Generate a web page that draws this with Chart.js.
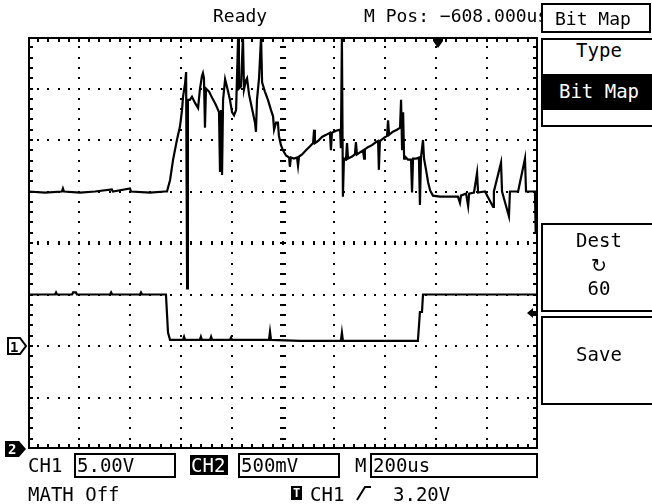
<!DOCTYPE html>
<html>
<head>
<meta charset="utf-8">
<script src="https://cdn.jsdelivr.net/npm/chart.js@4.4.1/dist/chart.umd.min.js"></script>
<style>
  html, body { margin: 0; padding: 0; background: #fff; }
  #screen { position: relative; width: 652px; height: 504px; overflow: hidden; background: #fff; }
  #screen canvas { position: absolute; left: 0; top: 0; }
  .t { position: absolute; font-family: "DejaVu Sans Mono", monospace; font-size: 18px; line-height: 1; white-space: pre; color: #000; }
  .b { font-size: 19px; }
  .c { text-align: center; left: 543px; width: 112px; }
  .box { position: absolute; border: 2px solid #000; box-sizing: border-box; background: #fff; }
  .inv { position: absolute; background: #000; }
  .w { color: #fff; }
</style>
</head>
<body>
<div id="screen">
  <canvas id="scope" width="652" height="504"></canvas>

  <!-- status line -->
  <div class="t" style="left:213px;top:7px">Ready</div>
  <div class="t" style="left:364px;top:7px">M Pos: −608.000us</div>
  <div class="box" style="left:541px;top:3px;width:110px;height:30px"></div>
  <div class="t" style="left:555px;top:10px">Bit Map</div>

  <!-- menu -->
  <div class="box" style="left:541px;top:38px;width:120px;height:89px"></div>
  <div class="t b c" style="top:41px">Type</div>
  <div class="inv" style="left:541px;top:74px;width:120px;height:36px"></div>
  <div class="t b c w" style="top:82px">Bit Map</div>

  <div class="box" style="left:541px;top:223px;width:120px;height:89px"></div>
  <div class="t b c" style="top:231px">Dest</div>
  <div class="t c" style="top:256px;font-family:'DejaVu Sans',sans-serif;font-size:19px">↻</div>
  <div class="t b c" style="top:279px">60</div>

  <div class="box" style="left:541px;top:316px;width:120px;height:89px"></div>
  <div class="t b c" style="top:345px">Save</div>

  <!-- channel markers -->
  <div class="t" style="left:10px;top:340px;font-size:14px;font-weight:bold">1</div>
  <div class="t w" style="left:8px;top:442px;font-size:14px;font-weight:bold">2</div>

  <!-- bottom status -->
  <div class="t b" style="left:28px;top:456px">CH1</div>
  <div class="box" style="left:74px;top:453px;width:102px;height:25px"></div>
  <div class="t b" style="left:77px;top:456px">5.00V</div>
  <div class="inv" style="left:190px;top:455px;width:38px;height:20px"></div>
  <div class="t b w" style="left:191px;top:456px">CH2</div>
  <div class="box" style="left:238px;top:453px;width:102px;height:25px"></div>
  <div class="t b" style="left:241px;top:456px">500mV</div>
  <div class="t b" style="left:355px;top:456px">M</div>
  <div class="box" style="left:370px;top:453px;width:168px;height:25px"></div>
  <div class="t b" style="left:373px;top:456px">200us</div>

  <div class="t b" style="left:28px;top:485px">MATH Off</div>
  <div class="inv" style="left:291px;top:486px;width:11px;height:14px"></div>
  <div class="t w" style="left:293px;top:487px;font-size:12px;font-weight:bold">T</div>
  <div class="t b" style="left:310px;top:485px">CH1</div>
  <svg style="position:absolute;left:354px;top:484px" width="20" height="20">
    <polyline points="3,16 11,3 17,3" fill="none" stroke="#000" stroke-width="2"/>
  </svg>
  <div class="t b" style="left:393px;top:485px">3.20V</div>
</div>

<script>
// horizontal: 200us/div, M Pos -608us, 10 div
const timeMin = -1608;
const timeMax = 392;
// CH1 5.00V/div, CH2 500mV/div, 8 div each
const ch1Range = [-10, 30];
const ch2Range = [0, 4];
const triggerTime = 0;
const triggerLevel = 3.2;

// CH1 trace [time us, volts]
const ch1Trace = [
  [-1608, 15.0], [-1541, 14.9], [-1475, 15.0], [-1471, 15.3], [-1467, 15.0], [-1404, 14.9], [-1345, 15.0],
  [-1279, 15.2], [-1275, 15.0], [-1208, 15.3], [-1204, 15.0], [-1130, 14.9], [-1071, 15.0],
  [-1063, 15.0], [-1051, 16.1], [-1039, 18.1], [-1024, 20.0], [-1012, 21.3], [-1004, 22.9], [-1000, 24.2],
  [-992, 25.5], [-988, 26.6], [-984, 5.6], [-981, 23.9], [-973, 23.9], [-965, 24.2], [-953, 23.6],
  [-941, 23.1], [-934, 24.9], [-926, 26.2], [-922, 26.5], [-918, 26.0], [-914, 21.2], [-910, 25.0],
  [-898, 24.7], [-886, 24.1], [-871, 23.4], [-859, 22.7], [-855, 16.9], [-851, 22.9], [-847, 16.6],
  [-843, 23.9], [-835, 25.9], [-828, 25.2], [-816, 23.9], [-808, 22.7], [-800, 22.4], [-792, 22.9],
  [-784, 30], [-781, 25.0], [-773, 25.2], [-765, 30], [-761, 24.9], [-753, 25.8], [-749, 26.0],
  [-741, 24.4], [-730, 23.1], [-718, 21.7], [-714, 20.8], [-710, 23.9], [-702, 26.0], [-694, 30],
  [-690, 25.6], [-679, 24.7], [-667, 23.9], [-655, 22.9], [-647, 22.3], [-643, 21.0], [-635, 21.7],
  [-628, 21.7], [-624, 20.4], [-616, 19.5], [-608, 19.0], [-596, 18.5], [-584, 18.3], [-581, 17.4],
  [-577, 18.3], [-565, 18.2], [-553, 18.3], [-549, 17.5], [-545, 18.4], [-533, 18.6], [-518, 19.0],
  [-502, 19.4], [-490, 19.7], [-486, 21.0], [-483, 19.7], [-471, 19.9], [-455, 20.3], [-439, 20.5],
  [-424, 20.7], [-420, 19.0], [-416, 20.7], [-400, 20.9], [-384, 21.0], [-381, 19.2], [-377, 30],
  [-373, 14.5], [-369, 18.2], [-361, 18.1], [-357, 19.7], [-353, 18.2], [-337, 18.4], [-326, 18.6],
  [-322, 19.8], [-318, 18.6], [-306, 18.8], [-294, 19.0], [-290, 18.2], [-287, 19.1], [-275, 19.3],
  [-259, 19.5], [-243, 19.8], [-235, 19.9], [-232, 17.1], [-228, 19.9], [-212, 20.2], [-200, 20.4],
  [-196, 21.9], [-192, 20.5], [-177, 20.8], [-161, 21.0], [-149, 21.2], [-145, 23.9], [-141, 19.0],
  [-137, 22.7], [-133, 18.2], [-130, 18.4], [-118, 18.1], [-106, 18.1], [-102, 14.9], [-98, 18.2],
  [-86, 18.2], [-75, 18.3], [-71, 13.7], [-67, 18.3], [-59, 20.0], [-55, 18.2], [-47, 17.1],
  [-39, 15.9], [-31, 15.1], [-20, 14.6], [8, 14.5], [47, 14.5], [78, 14.5], [86, 13.9], [90, 14.6],
  [110, 14.8], [118, 13.6], [122, 14.8], [141, 14.9], [153, 16.8], [157, 14.9], [184, 15.0],
  [216, 13.5], [219, 15.0], [247, 17.8], [251, 15.0], [278, 12.6], [282, 15.0], [314, 15.0],
  [341, 18.2], [345, 15.0], [372, 15.0], [380, 15.0], [383, 11.0], [386, 15.0], [389, 11.0]
];

// CH2 trace [time us, volts]
const ch2Trace = [
  [-1608, 1.50], [-1502, 1.50], [-1498, 1.52], [-1494, 1.50], [-1435, 1.50], [-1431, 1.52], [-1420, 1.52],
  [-1416, 1.50], [-1286, 1.50], [-1282, 1.52], [-1278, 1.50], [-1169, 1.50], [-1165, 1.52], [-1161, 1.50],
  [-1067, 1.50], [-1059, 1.13], [-1051, 1.06], [-1000, 1.06], [-996, 1.09], [-992, 1.06], [-934, 1.06],
  [-930, 1.09], [-926, 1.06], [-894, 1.06], [-890, 1.09], [-886, 1.06], [-816, 1.06], [-812, 1.08],
  [-808, 1.06], [-663, 1.06], [-659, 1.14], [-655, 1.06], [-541, 1.05], [-381, 1.05], [-377, 1.13],
  [-373, 1.05], [-228, 1.05], [-79, 1.05], [-71, 1.33], [-63, 1.33], [-59, 1.50], [392, 1.50]
];

// graticule, border ticks and scope markers
const scopeGrid = {
  id: 'scopeGrid',
  beforeDatasetsDraw(chart) {
    const { ctx, chartArea: a, scales: { x, y } } = chart;
    const tStep = (timeMax - timeMin) / 50;
    const vStep = (ch1Range[1] - ch1Range[0]) / 40;
    const dot = (px, py, w, h) => ctx.fillRect(Math.round(px - w / 2), Math.round(py - h / 2), w, h);
    ctx.save();
    ctx.fillStyle = '#000';
    for (let i = 1; i < 10; i++) {
      const px = x.getPixelForValue(timeMin + i * tStep * 5);
      for (let k = 1; k < 40; k++) {
        const py = y.getPixelForValue(ch1Range[0] + k * vStep);
        if (i === 5) dot(px, py, 6, 2); else dot(px, py, 2, 2);
      }
    }
    for (let j = 1; j < 8; j++) {
      const py = y.getPixelForValue(ch1Range[0] + j * vStep * 5);
      for (let k = 1; k < 50; k++) {
        const px = x.getPixelForValue(timeMin + k * tStep);
        if (j === 4) dot(px, py, 2, 4); else dot(px, py, 2, 2);
      }
    }
    // border
    ctx.fillRect(a.left, a.top, a.right - a.left, 2);
    ctx.fillRect(a.left, a.bottom - 2, a.right - a.left, 2);
    ctx.fillRect(a.left, a.top, 2, a.bottom - a.top);
    ctx.fillRect(a.right - 2, a.top, 2, a.bottom - a.top);
    for (let k = 1; k < 50; k++) {
      const px = Math.round(x.getPixelForValue(timeMin + k * tStep));
      ctx.fillRect(px - 1, a.top, 2, 5);
      ctx.fillRect(px - 1, a.bottom - 5, 2, 5);
    }
    for (let k = 1; k < 40; k++) {
      const py = Math.round(y.getPixelForValue(ch1Range[0] + k * vStep));
      ctx.fillRect(a.left, py - 1, 5, 2);
      ctx.fillRect(a.right - 5, py - 1, 5, 2);
    }
    ctx.restore();
  },
  afterDatasetsDraw(chart) {
    const { ctx, chartArea: a, scales: { x, y, y2 } } = chart;
    ctx.save();
    ctx.fillStyle = '#000';
    // trigger position
    const tx = Math.round(x.getPixelForValue(triggerTime));
    ctx.beginPath();
    ctx.moveTo(tx - 5, a.top + 1);
    ctx.lineTo(tx + 5, a.top + 1);
    ctx.lineTo(tx + 5, a.top + 4);
    ctx.lineTo(tx, a.top + 11);
    ctx.lineTo(tx - 5, a.top + 4);
    ctx.closePath();
    ctx.fill();
    // trigger level
    const ty = Math.round(y.getPixelForValue(triggerLevel));
    ctx.beginPath();
    ctx.moveTo(a.right - 11, ty);
    ctx.lineTo(a.right - 5, ty - 5);
    ctx.lineTo(a.right - 5, ty - 2);
    ctx.lineTo(a.right, ty - 2);
    ctx.lineTo(a.right, ty + 2);
    ctx.lineTo(a.right - 5, ty + 2);
    ctx.lineTo(a.right - 5, ty + 5);
    ctx.closePath();
    ctx.fill();
    // CH1 ground marker
    const g1 = Math.round(y.getPixelForValue(0));
    ctx.beginPath();
    ctx.moveTo(8, g1 - 8);
    ctx.lineTo(20, g1 - 8);
    ctx.lineTo(26, g1);
    ctx.lineTo(20, g1 + 8);
    ctx.lineTo(8, g1 + 8);
    ctx.closePath();
    ctx.fillStyle = '#fff';
    ctx.fill();
    ctx.lineWidth = 2;
    ctx.strokeStyle = '#000';
    ctx.stroke();
    // CH2 ground marker
    const g2 = Math.round(y2.getPixelForValue(0));
    ctx.beginPath();
    ctx.moveTo(5, g2 - 8);
    ctx.lineTo(19, g2 - 8);
    ctx.lineTo(26, g2);
    ctx.lineTo(19, g2 + 8);
    ctx.lineTo(5, g2 + 8);
    ctx.closePath();
    ctx.fillStyle = '#000';
    ctx.fill();
    ctx.restore();
  }
};

const toPoints = trace => trace.map(([t, v]) => ({ x: t, y: v }));

new Chart(document.getElementById('scope'), {
  type: 'scatter',
  data: {
    datasets: [
      { label: 'CH1', data: toPoints(ch1Trace), yAxisID: 'y', showLine: true, borderColor: '#000', borderWidth: 2.2, pointRadius: 0, tension: 0 },
      { label: 'CH2', data: toPoints(ch2Trace), yAxisID: 'y2', showLine: true, borderColor: '#000', borderWidth: 2.2, pointRadius: 0, tension: 0 }
    ]
  },
  options: {
    responsive: false,
    animation: false,
    devicePixelRatio: 1,
    layout: { padding: { left: 28, top: 37, right: 114, bottom: 55 } },
    scales: {
      x: { type: 'linear', min: timeMin, max: timeMax, display: false },
      y: { type: 'linear', min: ch1Range[0], max: ch1Range[1], display: false },
      y2: { type: 'linear', min: ch2Range[0], max: ch2Range[1], display: false }
    },
    plugins: { legend: { display: false }, tooltip: { enabled: false } }
  },
  plugins: [scopeGrid]
});
</script>
</body>
</html>
